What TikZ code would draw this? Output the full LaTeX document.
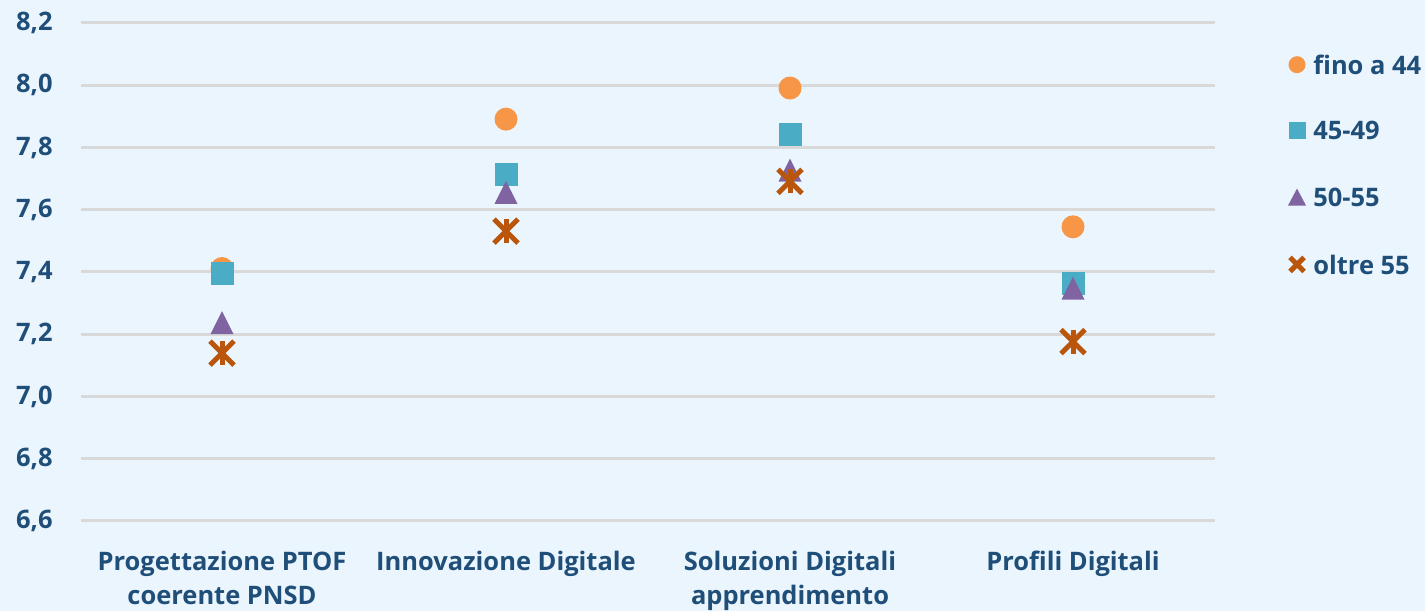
\documentclass[tikz,border=0pt]{standalone}
\usepackage{fontspec}
\setmainfont{Open Sans}
\definecolor{bgblue}{HTML}{EAF5FD}
\definecolor{gridgray}{HTML}{D9D9D9}
\definecolor{txtblue}{HTML}{1F4E79}
\definecolor{ageA}{HTML}{F79646}
\definecolor{ageB}{HTML}{4BACC6}
\definecolor{ageC}{HTML}{8064A2}
\definecolor{ageD}{HTML}{B9560C}
\begin{document}
\begin{tikzpicture}[x=0.02cm, y=6.225cm,
    lbl/.style={text=txtblue, inner sep=0pt, font=\bfseries\fontsize{14.5}{19.5}\selectfont},
    dotA/.style={circle, fill=ageA, inner sep=0pt, minimum size=23*0.02cm},
    dotB/.style={rectangle, fill=ageB, inner sep=0pt, minimum size=23*0.02cm},
    dotC/.style={fill=ageC},
    dotD/.style={draw=ageD, line width=5*0.02cm}]
  \fill[bgblue] (0,6.311) rectangle (1425,8.274);
  \useasboundingbox (0,6.311) rectangle (1425,8.274);
  % gridlines and tick labels
  \foreach \v/\t in {6.6/{6,6},6.8/{6,8},7.0/{7,0},7.2/{7,2},7.4/{7,4},7.6/{7,6},7.8/{7,8},8.0/{8,0},8.2/{8,2}}{
    \draw[gridgray, line width=3*0.02cm] (81,\v) -- (1215,\v);
    \node[lbl, anchor=east] (tick\v) at (53,\v) {\t};
  }
  % categories
  \node[lbl, align=center, anchor=north] (catA) at (222,6.505) {Progettazione PTOF\\coerente PNSD};
  \node[lbl, align=center, anchor=north] (catB) at (506,6.505) {Innovazione Digitale};
  \node[lbl, align=center, anchor=north] (catC) at (790,6.505) {Soluzioni Digitali\\apprendimento};
  \node[lbl, align=center, anchor=north] (catD) at (1073,6.505) {Profili Digitali};
  % data
  \foreach \x/\a/\b/\c/\d in {222/7.411/7.395/7.237/7.139, 506/7.891/7.714/7.656/7.531,
                               790/7.991/7.841/7.727/7.691, 1073/7.545/7.364/7.348/7.176}{
    \node[dotA] at (\x,\a) {};
    \node[dotB] at (\x,\b) {};
    \fill[dotC] ([xshift=-11.5*0.02cm, yshift=-11.5*0.02cm]\x,\c) -- ++(23,0) -- ([yshift=11.5*0.02cm]\x,\c) -- cycle;
    \draw[dotD] ([xshift=-12*0.02cm, yshift=-12*0.02cm]\x,\d) -- ([xshift=12*0.02cm, yshift=12*0.02cm]\x,\d);
    \draw[dotD] ([xshift=-12*0.02cm, yshift=12*0.02cm]\x,\d) -- ([xshift=12*0.02cm, yshift=-12*0.02cm]\x,\d);
    \draw[dotD] ([yshift=-12*0.02cm]\x,\d) -- ([yshift=12*0.02cm]\x,\d);
  }
  % legend
  \node[circle, fill=ageA, inner sep=0pt, minimum size=17*0.02cm] (legA) at (1297,8.066) {};
  \node[lbl, anchor=west] at ([xshift=16*0.02cm]legA.center) {fino a 44};
  \node[rectangle, fill=ageB, inner sep=0pt, minimum size=17*0.02cm] (legB) at (1297,7.854) {};
  \node[lbl, anchor=west] at ([xshift=16*0.02cm]legB.center) {45-49};
  \coordinate (legC) at (1297,7.639);
  \fill[ageC] ([xshift=-9*0.02cm, yshift=-8*0.02cm]legC) -- ++(18,0) -- ([yshift=9*0.02cm]legC) -- cycle;
  \node[lbl, anchor=west] at ([xshift=16*0.02cm]legC) {50-55};
  \coordinate (legD) at (1297,7.424);
  \draw[dotD] ([xshift=-7*0.02cm, yshift=-7*0.02cm]legD) -- ([xshift=7*0.02cm, yshift=7*0.02cm]legD);
  \draw[dotD] ([xshift=-7*0.02cm, yshift=7*0.02cm]legD) -- ([xshift=7*0.02cm, yshift=-7*0.02cm]legD);
  \node[lbl, anchor=west] at ([xshift=16*0.02cm]legD) {oltre 55};
\end{tikzpicture}
\end{document}
